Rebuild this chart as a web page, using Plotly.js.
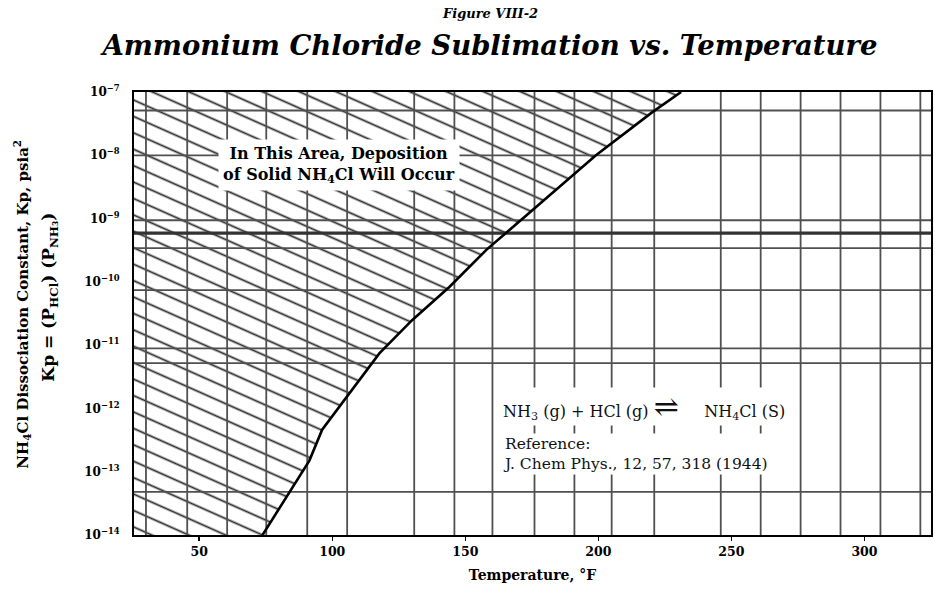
<!DOCTYPE html>
<html>
<head>
<meta charset="utf-8">
<script src="https://cdn.plot.ly/plotly-3.0.1.min.js"></script>
<style>html,body{margin:0;padding:0;background:#fff;}#chart{width:935px;height:603px;}</style>
</head>
<body>
<div id="chart"></div>
<script>
// Sublimation curve (Temperature °F vs Kp, psia^2)
const tempF = [73.8, 91.4, 96.2, 106.4, 117.7, 130.1, 144.0, 157.9, 185.3, 199.1, 220.3, 231.1];
const kp    = [1e-14, 1.5e-13, 4.6e-13, 1.7e-12, 7.4e-12, 2.5e-11, 8.3e-11, 3.2e-10, 3.2e-9, 1e-8, 4.8e-8, 1e-7];

// Printed graph-paper grid lines
const gridXValues = [30, 45.5, 60.5, 75.2, 90.6, 105.6, 130.8, 145.9, 160.2, 176, 191, 205, 221, 246, 261, 276, 291, 306, 321];
const gridYValues = [5.1e-8, 1e-8, 9.4e-10, 3.4e-10, 7.4e-11, 8.9e-12, 5.2e-12, 4.8e-14];
const gridYThick  = [5.9e-10];

// Axes
const xRange = [25.5, 325];
const yRangeExp = [-14, -7];
const xTickVals = [50, 100, 150, 200, 250, 300];
const xTickText = ['50', '100', '150', '200', '250', '300'];
const yTickVals = [1e-14, 1e-13, 1e-12, 1e-11, 1e-10, 1e-9, 1e-8, 1e-7];
const yTickText = ['10<sup>−14</sup>', '10<sup>−13</sup>', '10<sup>−12</sup>', '10<sup>−11</sup>',
                   '10<sup>−10</sup>', '10<sup>−9</sup>', '10<sup>−8</sup>', '10<sup>−7</sup>'];

const yMin = Math.pow(10, yRangeExp[0]);
const yMax = Math.pow(10, yRangeExp[1]);

// hatched region (left of / above the curve)
const hatchX = [xRange[0]].concat(tempF, [xRange[0]]);
const hatchY = [yMin].concat(kp, [yMax]);

function vLines(vals) {
  const x = [], y = [];
  vals.forEach(v => { x.push(v, v, null); y.push(yMin, yMax, null); });
  return {x, y};
}
function hLines(vals) {
  const x = [], y = [];
  vals.forEach(v => { x.push(xRange[0], xRange[1], null); y.push(v, v, null); });
  return {x, y};
}
const vg = vLines(gridXValues), hg = hLines(gridYValues), hgt = hLines(gridYThick);

const SERIF = 'DejaVu Serif';
const gridColor = '#505050';
const NB = '\u00A0';

const traces = [
  {x: hatchX, y: hatchY, type: 'scatter', mode: 'none', fill: 'toself', fillcolor: 'rgba(0,0,0,0)',
   fillpattern: {shape: '-', size: 15, solidity: 0.12, fgcolor: '#2a2a2a', bgcolor: 'rgba(255,255,255,0)', fgopacity: 1},
   hoverinfo: 'skip', showlegend: false},
  {x: vg.x, y: vg.y, type: 'scatter', mode: 'lines', line: {color: gridColor, width: 1.8}, hoverinfo: 'skip', showlegend: false},
  {x: hg.x, y: hg.y, type: 'scatter', mode: 'lines', line: {color: gridColor, width: 1.8}, hoverinfo: 'skip', showlegend: false},
  {x: hgt.x, y: hgt.y, type: 'scatter', mode: 'lines', line: {color: '#333', width: 3.2}, hoverinfo: 'skip', showlegend: false},
  {x: tempF, y: kp, type: 'scatter', mode: 'lines', line: {color: '#000', width: 2.6}, name: 'Kp', showlegend: false}
];

const layout = {
  width: 935, height: 603,
  paper_bgcolor: '#fff', plot_bgcolor: '#fff',
  margin: {l: 134, r: 4, t: 92, b: 68},
  showlegend: false,
  title: {
    text: 'Ammonium Chloride Sublimation vs. Temperature',
    font: {family: SERIF, size: 27.5, weight: 'bold', style: 'italic', color: '#000'},
    x: 0.524, xanchor: 'center', xref: 'container', y: 0.925, yanchor: 'middle', yref: 'container'
  },
  xaxis: {
    range: xRange, showgrid: false, zeroline: false,
    tickvals: xTickVals, ticktext: xTickText, ticks: 'outside', ticklen: 4, tickwidth: 1.5, tickcolor: '#000',
    tickfont: {family: SERIF, size: 12.5, weight: 'bold', color: '#000'},
    showline: true, mirror: true, linecolor: '#000', linewidth: 2,
    title: {text: 'Temperature, °F', font: {family: SERIF, size: 14, weight: 'bold', color: '#000'}, standoff: 12}
  },
  yaxis: {
    type: 'log', range: yRangeExp, showgrid: false, zeroline: false,
    tickvals: yTickVals, ticktext: yTickText, ticks: '', ticklabelstandoff: 10,
    tickfont: {family: SERIF, size: 12, weight: 'bold', color: '#000'},
    showline: true, mirror: true, linecolor: '#000', linewidth: 2
  },
  annotations: [
    {text: 'Figure VIII-2', xref: 'paper', yref: 'paper', x: 0.447, y: 1.178,
     showarrow: false, xanchor: 'center', yanchor: 'middle',
     font: {family: SERIF, size: 13, weight: 'bold', style: 'italic', color: '#000'}},
    {text: 'NH<sub>4</sub>Cl Dissociation Constant, Kp, psia<sup>2</sup>', xref: 'paper', yref: 'paper',
     x: -0.1405, y: 0.52, textangle: -90, showarrow: false, xanchor: 'center', yanchor: 'middle',
     font: {family: SERIF, size: 15, weight: 'bold', color: '#000'}},
    {text: 'Kp = (P<sub>HCl</sub>) (P<sub>NH₃</sub>)', xref: 'paper', yref: 'paper',
     x: -0.106, y: 0.537, textangle: -90, showarrow: false, xanchor: 'center', yanchor: 'middle',
     font: {family: SERIF, size: 17, weight: 'bold', color: '#000'}},
    {text: 'In This Area, Deposition<br>of Solid NH<sub>4</sub>Cl Will Occur', xref: 'paper', yref: 'paper',
     x: 0.257, y: 0.835, showarrow: false, xanchor: 'center', yanchor: 'middle', bgcolor: '#fff', borderpad: 4,
     font: {family: SERIF, size: 16, weight: 'bold', color: '#000'}},
    {text: 'NH<sub>3</sub> (g)' + NB + '+' + NB + 'HCl (g)' + NB + '<span style="font-size:30px">⇌</span>' + NB + NB + NB + NB + NB + 'NH<sub>4</sub>Cl' + NB + '(S)',
     xref: 'paper', yref: 'paper',
     x: 0.46, y: 0.289, showarrow: false, xanchor: 'left', yanchor: 'middle', bgcolor: '#fff', borderpad: 1,
     font: {family: SERIF, size: 16, color: '#111'}},
    {text: 'Reference:<br>J. Chem Phys., 12, 57, 318 (1944)', xref: 'paper', yref: 'paper', align: 'left',
     x: 0.46, y: 0.183, showarrow: false, xanchor: 'left', yanchor: 'middle', bgcolor: '#fff', borderpad: 1,
     font: {family: SERIF, size: 15.5, color: '#111'}}
  ]
};

Plotly.newPlot('chart', traces, layout, {displayModeBar: false, staticPlot: true}).then(() => {
  document.querySelectorAll('#chart pattern').forEach(p => p.setAttribute('patternTransform', 'rotate(24)'));
});
</script>
</body>
</html>
